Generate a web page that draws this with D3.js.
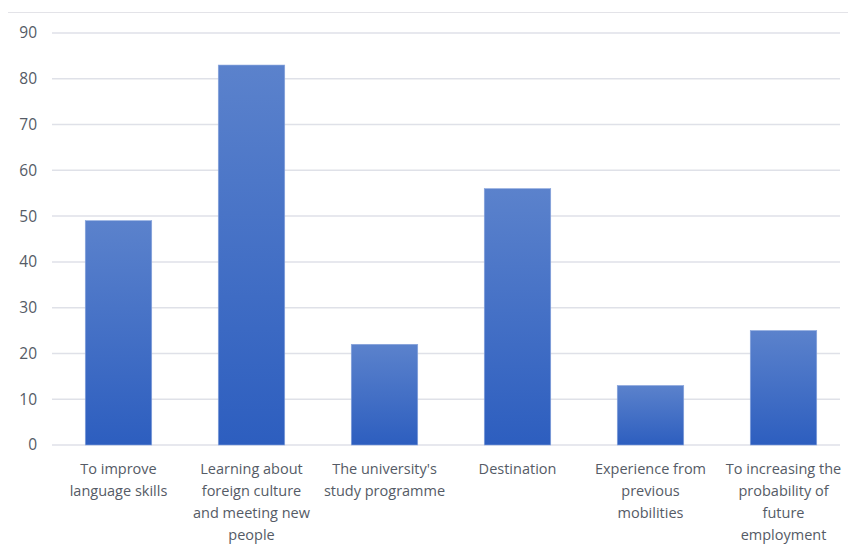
<!DOCTYPE html>
<html><head><meta charset="utf-8">
<script src="https://cdn.jsdelivr.net/npm/d3@7"></script>
<style>body{margin:0;background:#fff}svg{display:block}</style>
</head><body>
<svg id="c" width="848" height="551"></svg>
<script>
const categories = [
  ["To improve", "language skills"],
  ["Learning about", "foreign culture", "and meeting new", "people"],
  ["The university's", "study programme"],
  ["Destination"],
  ["Experience from", "previous", "mobilities"],
  ["To increasing the", "probability of", "future", "employment"]
];
const values = [49, 83, 22, 56, 13, 25];
const yTicks = [0, 10, 20, 30, 40, 50, 60, 70, 80, 90];

const svg = d3.select("#c");
const font = "'Open Sans', Lato, sans-serif";
const x = d3.scaleBand().domain(d3.range(values.length)).range([52, 850]).paddingInner(0.5).paddingOuter(0.25);
const y = d3.scaleLinear().domain([0, 90]).range([445, 33]);

// top border
svg.append("line").attr("x1", 8).attr("x2", 848).attr("y1", 12.5).attr("y2", 12.5)
  .attr("stroke", "#e3e3e8").attr("stroke-width", 1);

const defs = svg.append("defs");
const g = defs.append("linearGradient").attr("id", "bg").attr("x1", 0).attr("x2", 0).attr("y1", 0).attr("y2", 1);
g.append("stop").attr("offset", "0%").attr("stop-color", "#5b82cc");
g.append("stop").attr("offset", "100%").attr("stop-color", "#2d5ebf");

// gridlines
svg.append("g").selectAll("line").data(yTicks).join("line")
  .attr("x1", 52).attr("x2", 840)
  .attr("y1", d => y(d)).attr("y2", d => y(d))
  .attr("stroke", "#dfe1e8").attr("stroke-width", 1.5);

// y axis labels
const yAxis = d3.axisLeft(y).tickValues(yTicks).tickSize(0).tickPadding(0);
const ya = svg.append("g").attr("transform", "translate(37,0)").call(yAxis);
ya.select(".domain").remove();
ya.selectAll("text").attr("font-family", font).attr("font-size", 15.5).attr("fill", "#555b66");

// bars
svg.append("g").selectAll("rect").data(values).join("rect")
  .attr("x", (d, i) => x(i)).attr("width", x.bandwidth())
  .attr("y", d => y(d)).attr("height", d => y(0) - y(d))
  .attr("fill", "url(#bg)").attr("stroke", "#8aa6dc").attr("stroke-width", 0.6);

// x labels
const lab = svg.append("g").selectAll("text").data(categories).join("text")
  .attr("text-anchor", "middle").attr("font-family", font).attr("font-size", 14.5).attr("fill", "#555b66")
  .attr("transform", (d, i) => `translate(${x(i) + x.bandwidth() / 2},474)`);
lab.selectAll("tspan").data(d => d).join("tspan")
  .attr("x", 0).attr("dy", (d, j) => j === 0 ? 0 : 22).text(d => d);
</script>
</body></html>
